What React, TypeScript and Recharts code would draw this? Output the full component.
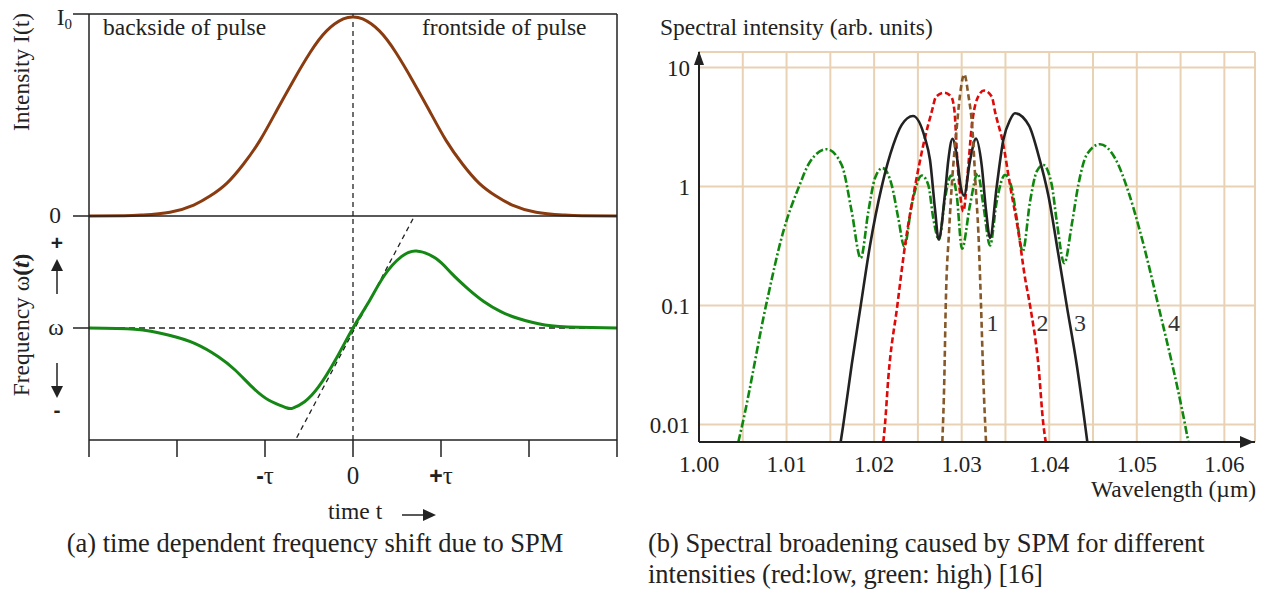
import React from 'react';
import { LineChart, Line, XAxis, YAxis, ReferenceLine, CartesianGrid } from 'recharts';

const SERIF = "'Liberation Serif', 'Times New Roman', serif";
const SANS = "'Liberation Sans', Arial, sans-serif";
const INK = '#222';

// ---------- (a) pulse intensity and instantaneous frequency, time in units of tau ----------
const pulseTime = [-3, -2.6, -2.39, -2.08, -1.81, -1.625, -1.435, -1.246, -1.057, -0.867, -0.678, -0.489, -0.3, -0.11, 0,
  0.11, 0.3, 0.489, 0.678, 0.867, 1.057, 1.246, 1.435, 1.625, 1.81, 2.08, 2.39, 2.6, 3];
const pulseIntensity = [0, 0.001, 0.005, 0.019, 0.055, 0.1, 0.164, 0.26, 0.38, 0.53, 0.68, 0.82, 0.93, 0.99, 1,
  0.99, 0.93, 0.82, 0.68, 0.53, 0.38, 0.26, 0.164, 0.1, 0.055, 0.019, 0.005, 0.001, 0];

const chirpTime = [-3, -2.48, -2.1, -1.8, -1.53, -1.34, -1.15, -0.96, -0.77, -0.69, -0.55, -0.39, -0.2, 0,
  0.17, 0.36, 0.55, 0.72, 0.94, 1.12, 1.31, 1.49, 1.68, 1.87, 2.18, 2.56, 3];
const chirpShift = [0, -0.012, -0.062, -0.137, -0.256, -0.375, -0.524, -0.643, -0.708, -0.717, -0.658, -0.524, -0.286, 0,
  0.22, 0.473, 0.637, 0.688, 0.622, 0.488, 0.348, 0.235, 0.146, 0.087, 0.027, 0.006, 0];

const timeTicks = [-3, -2, -1, 0, 1, 2, 3];
const timeTickLabels: Record<string, [string, string]> = { '-1': ['-', 'τ'], '0': ['', '0'], '1': ['+', 'τ'] };
const chirpTangent = [{ x: -0.64, y: -0.98 }, { x: 0.685, y: 0.98 }];

// ---------- (b) SPM spectra, wavelength in µm ----------
const curve1Wavelength = [1.02779, 1.02802, 1.02818, 1.02856, 1.02886, 1.02943, 1.02981, 1.0303, 1.03076, 1.03122, 1.0316,
  1.0319, 1.03221, 1.03247, 1.03278];
const curve1Intensity = [0.00714, 0.0246, 0.1, 0.42, 1.0, 3.09, 5.89, 8.79, 5.89, 3.09, 1.0, 0.42, 0.1, 0.0246, 0.00714];

const curve2Wavelength = [1.02105, 1.02124, 1.02162, 1.02265, 1.02353, 1.02467, 1.02562, 1.02658, 1.02708, 1.02802, 1.0288,
  1.02918, 1.0295, 1.02981, 1.03019, 1.03065, 1.03115, 1.03172, 1.03255, 1.03344, 1.03381, 1.03476, 1.03552, 1.03647,
  1.03724, 1.03781, 1.03876, 1.03933, 1.0396];
const curve2Intensity = [0.00714, 0.01, 0.0246, 0.1, 0.32, 1.0, 2.24, 4.26, 5.7, 6.15, 5.7,
  4.3, 1.68, 0.88, 0.62, 1.21, 3.19, 5.35, 6.41, 5.7, 4.26, 2.24, 1.03, 0.42,
  0.17, 0.1, 0.0318, 0.01, 0.00714];

const curve3Wavelength = [1.01618, 1.01648, 1.01744, 1.01847, 1.01953, 1.02087, 1.02219, 1.02315, 1.02444, 1.02581, 1.02638,
  1.02696, 1.02736, 1.0281, 1.02848, 1.02895, 1.0295, 1.02989, 1.03027, 1.03095, 1.03164, 1.03229, 1.03278, 1.03324,
  1.034, 1.03476, 1.03552, 1.03609, 1.03769, 1.03876, 1.0399, 1.04104, 1.042, 1.04314, 1.04409, 1.04435];
const curve3Intensity = [0.00714, 0.01, 0.0318, 0.1, 0.32, 1.0, 2.24, 3.3, 3.92, 2.55, 1.68,
  0.64, 0.36, 0.88, 1.68, 2.52, 1.68, 1.0, 0.84, 1.65, 2.53, 1.5, 0.63, 0.37,
  1.0, 2.47, 3.63, 4.13, 3.25, 1.85, 0.84, 0.27, 0.1, 0.0318, 0.01, 0.00714];

const curve4Wavelength = [1.00449, 1.00495, 1.00765, 1.00963, 1.01142, 1.01268, 1.01459, 1.0163, 1.01744, 1.01847, 1.01934,
  1.0201, 1.02094, 1.02201, 1.02276, 1.02345, 1.02429, 1.02544, 1.02619, 1.02676, 1.02741, 1.0281, 1.02878, 1.02943,
  1.03004, 1.03095, 1.03183, 1.03247, 1.03324, 1.034, 1.03495, 1.03572, 1.03629, 1.03697, 1.03781, 1.03857, 1.03933,
  1.04029, 1.04086, 1.04172, 1.04257, 1.04332, 1.04428, 1.0458, 1.04752, 1.04903, 1.05037, 1.05246, 1.05551, 1.05589];
const curve4Intensity = [0.00714, 0.01, 0.1, 0.42, 1.0, 1.62, 2.06, 1.52, 0.617, 0.25, 0.617,
  1.18, 1.43, 1.03, 0.543, 0.313, 0.7, 1.24, 1.03, 0.54, 0.357, 0.8, 1.24, 0.85,
  0.3, 0.7, 1.29, 0.7, 0.32, 0.75, 1.25, 0.97, 0.54, 0.285, 0.75, 1.34, 1.52,
  1.03, 0.51, 0.227, 0.477, 1.03, 1.85, 2.27, 1.73, 0.91, 0.42, 0.1, 0.01, 0.00714];

const wavelengthTicks = [1.0, 1.005, 1.01, 1.015, 1.02, 1.025, 1.03, 1.035, 1.04, 1.045, 1.05, 1.055, 1.06];
const intensityTicks = [0.01, 0.1, 1, 10];
const curveNumbers = ['1', '2', '3', '4'];

const pulseData = pulseTime.map((t, i) => ({ t, v: pulseIntensity[i] }));
const chirpData = chirpTime.map((t, i) => ({ t, v: chirpShift[i] }));
const toSeries = (wl: number[], val: number[]) => wl.map((x, i) => ({ x, y: val[i] }));

const spectra = [
  { key: '4', data: toSeries(curve4Wavelength, curve4Intensity), color: '#0f870f', dash: '8 2.5 2 2.5' },
  { key: '2', data: toSeries(curve2Wavelength, curve2Intensity), color: '#dd0a0a', dash: '6 3' },
  { key: '3', data: toSeries(curve3Wavelength, curve3Intensity), color: '#222222', dash: undefined },
  { key: '1', data: toSeries(curve1Wavelength, curve1Intensity), color: '#86592a', dash: '6 3.5' },
];

const TimeTick = (props: any) => {
  const { x, payload } = props;
  const parts = timeTickLabels[String(payload.value)];
  if (!parts) return <g />;
  return (
    <text x={x} y={484} textAnchor="middle" fontFamily={SERIF} fontSize={25} fill={INK}>
      {parts[0] ? <tspan fontFamily={SANS} fontWeight="bold" fontSize={23}>{parts[0]}</tspan> : null}
      <tspan>{parts[1]}</tspan>
    </text>
  );
};

const fmtWavelength = (v: number) => (Math.round(v * 1000) % 10 === 0 ? v.toFixed(2) : '');
const fmtIntensity = (v: number) => String(v);

const abs = (left: number, top: number): React.CSSProperties => ({ position: 'absolute', left, top });

export default function App() {
  return (
    <div style={{ position: 'absolute', left: 0, top: 0, width: 1265, height: 592, background: '#fff', overflow: 'hidden' }}>
      {/* (a) upper panel: intensity */}
      <div style={abs(0, 0)}>
        <LineChart width={640} height={230} data={pulseData} margin={{ top: 14, right: 23, bottom: 14, left: 89 }}>
          <XAxis dataKey="t" type="number" domain={[-3, 3]} hide />
          <YAxis type="number" domain={[0, 1.015]} hide />
          <ReferenceLine x={0} stroke={INK} strokeWidth={1.3} strokeDasharray="5 4" />
          <Line dataKey="v" type="natural" stroke="#8a3c10" strokeWidth={3} dot={false} isAnimationActive={false} />
        </LineChart>
      </div>

      {/* (a) lower panel: frequency shift */}
      <div style={abs(0, 0)}>
        <LineChart width={640} height={510} data={chirpData} margin={{ top: 216, right: 23, bottom: 0, left: 89 }}>
          <XAxis dataKey="t" type="number" domain={[-3, 3]} ticks={timeTicks} interval={0} height={70}
            tickSize={17} tick={<TimeTick />}
            axisLine={{ stroke: INK, strokeWidth: 1.5 }} tickLine={{ stroke: INK, strokeWidth: 1.5 }} />
          <YAxis type="number" domain={[-1, 1]} hide />
          <ReferenceLine y={0} stroke={INK} strokeWidth={1.3} strokeDasharray="6 4" />
          <ReferenceLine x={0} stroke={INK} strokeWidth={1.3} strokeDasharray="5 4" />
          <ReferenceLine segment={chirpTangent} stroke={INK} strokeWidth={1.3} strokeDasharray="5 4" />
          <Line dataKey="v" type="natural" stroke="#148714" strokeWidth={3} dot={false} isAnimationActive={false} />
        </LineChart>
      </div>

      {/* (b) spectra on a logarithmic scale */}
      <div style={abs(0, 0)}>
        <LineChart width={1265} height={592} margin={{ top: 52, right: 10, bottom: 110, left: 639 }}>
          <CartesianGrid stroke="#e8d2b3" strokeWidth={2} />
          <XAxis dataKey="x" type="number" domain={[1.0, 1.0635]} allowDataOverflow ticks={wavelengthTicks}
            interval={0} height={40} tickLine={false} tickSize={6} tickMargin={8} tickFormatter={fmtWavelength}
            tick={{ fill: INK, fontSize: 23, fontFamily: SERIF }} axisLine={{ stroke: INK, strokeWidth: 2 }} />
          <YAxis type="number" scale="log" domain={[0.00714, 13.52]} allowDataOverflow ticks={intensityTicks}
            interval={0} width={60} tickLine={false} tickSize={6} tickMargin={3} tickFormatter={fmtIntensity}
            tick={{ fill: INK, fontSize: 23, fontFamily: SERIF }} axisLine={{ stroke: INK, strokeWidth: 2 }} />
          {spectra.map((s) => (
            <Line key={s.key} data={s.data} dataKey="y" type="monotone" stroke={s.color} strokeWidth={2.6}
              strokeDasharray={s.dash} dot={false} isAnimationActive={false} />
          ))}
        </LineChart>
      </div>

      {/* frames, arrows and annotations */}
      <svg width={1265} height={592} style={{ position: 'absolute', left: 0, top: 0, pointerEvents: 'none' }}>
        <g stroke={INK} strokeWidth={1.5} fill="none">
          <line x1={73} y1={14} x2={617} y2={14} />
          <line x1={89} y1={14} x2={89} y2={440} />
          <line x1={617} y1={14} x2={617} y2={440} />
          <line x1={73} y1={216} x2={617} y2={216} />
          <line x1={73} y1={328} x2={89} y2={328} />
          <line x1={57} y1={294} x2={57} y2={268} />
          <line x1={57} y1={363} x2={57} y2={388} />
          <line x1={402} y1={515} x2={424} y2={515} />
        </g>
        <g fill={INK}>
          <polygon points="57,259 51,271 63,271" />
          <polygon points="57,398 51,386 63,386" />
          <polygon points="436,515 423,509 423,521" />
          <polygon points="699,51 694,65 704,65" />
          <polygon points="1254,442 1240,436 1240,448" />
        </g>

        <g fontFamily={SERIF} fill={INK}>
          <text x={21} y={72} fontSize={23.5} textAnchor="middle" dominantBaseline="central" transform="rotate(-90 21 72)">
            Intensity I(t)
          </text>
          <text x={21} y={325} fontSize={23.5} textAnchor="middle" dominantBaseline="central" transform="rotate(-90 21 325)">
            Frequency ω<tspan fontWeight="bold">(<tspan fontStyle="italic">t</tspan>)</tspan>
          </text>
          <text x={72} y={25} fontSize={23.5} textAnchor="end">I<tspan fontSize={15} dy={4}>0</tspan></text>
          <text x={55} y={223} fontSize={23.5} textAnchor="middle">0</text>
          <text x={56} y={335} fontSize={23.5} textAnchor="middle">ω</text>
          <text x={57} y={250} fontSize={21} textAnchor="middle" fontFamily={SANS} fontWeight="bold">+</text>
          <text x={57} y={417} fontSize={21} textAnchor="middle" fontFamily={SANS} fontWeight="bold">-</text>
          <text x={103} y={35} fontSize={23.5}>backside of pulse</text>
          <text x={422} y={35} fontSize={23.5}>frontside of pulse</text>
          <text x={328} y={519} fontSize={23.5}>time t</text>
          <text x={315} y={552} fontSize={26.5} textAnchor="middle">(a) time dependent frequency shift due to SPM</text>

          <text x={660} y={35} fontSize={23.5}>Spectral intensity (arb. units)</text>
          <text x={1256} y={497} fontSize={23.5} textAnchor="end">Wavelength (µm)</text>
          <text x={992.5} y={331} fontSize={24} textAnchor="middle" fill="#333">{curveNumbers[0]}</text>
          <text x={1042.5} y={331} fontSize={24} textAnchor="middle" fill="#333">{curveNumbers[1]}</text>
          <text x={1080} y={331} fontSize={24} textAnchor="middle" fill="#333">{curveNumbers[2]}</text>
          <text x={1174} y={331} fontSize={24} textAnchor="middle" fill="#333">{curveNumbers[3]}</text>
          <text x={648} y={552} fontSize={26.5}>(b) Spectral broadening caused by SPM for different</text>
          <text x={648} y={583} fontSize={26.5}>intensities (red:low, green: high) [16]</text>
        </g>
      </svg>
    </div>
  );
}
